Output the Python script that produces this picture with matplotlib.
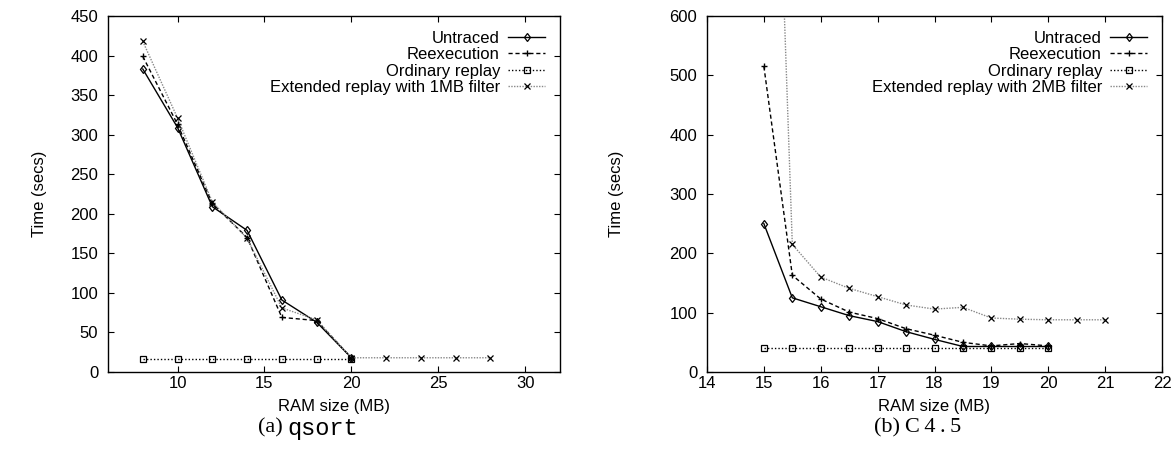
import matplotlib
matplotlib.use('Agg')
import matplotlib.pyplot as plt

plt.rcParams['font.family'] = ['Liberation Sans', 'DejaVu Sans']

# (a) qsort
qs_x = [8, 10, 12, 14, 16, 18, 20]
qs_untraced = [383, 309, 209, 179, 91, 63, 18]
qs_reexec = [399, 313, 213, 170, 69, 65, 18]
qs_ordinary = [16, 16, 16, 16, 16, 16, 16]
qs_ext_x = [8, 10, 12, 14, 16, 18, 20, 22, 24, 26, 28]
qs_ext = [418, 321, 215, 169, 81, 66, 18, 18, 18, 18, 18]

# (b) c4.5
c45_x = [15, 15.5, 16, 16.5, 17, 17.5, 18, 18.5, 19, 19.5, 20]
c45_untraced = [250, 125, 110, 95, 85, 68, 55, 43, 43, 43, 43]
c45_reexec = [515, 163, 123, 101, 90, 73, 62, 50, 44, 48, 44]
c45_ordinary = [40, 40, 40, 40, 40, 40, 40, 40, 40, 40, 40]
c45_ext_x = [15, 15.5, 16, 16.5, 17, 17.5, 18, 18.5, 19, 19.5, 20, 20.5, 21]
c45_ext = [1600, 215, 160, 141, 127, 113, 106, 109, 91, 89, 88, 88, 88]

W, H = 1175, 455
FS = 12
fig = plt.figure(figsize=(W / 100, H / 100), dpi=100)

def px_axes(l, r, t, b):
    return fig.add_axes([l / W, 1 - b / H, (r - l) / W, (b - t) / H])

def draw(ax, x, unt, ree, ordn, ext_x, ext, ext_label):
    ax.plot(x, unt, color='black', lw=1, marker='d', ms=4.5, mfc='none',
            mew=0.9, label='Untraced')
    ax.plot(x, ree, color='black', lw=1, ls=(0, (3, 2)), marker='+', ms=5,
            mew=1, label='Reexecution')
    ax.plot(x, ordn, color='black', lw=1, ls=(0, (1, 1.5)), marker='s',
            ms=4.5, mfc='none', mew=0.9, label='Ordinary replay')
    ax.plot(ext_x, ext, color='#888888', lw=1, ls=(0, (1, 1)), marker='x',
            ms=5, mec='black', mew=0.9, label=ext_label)
    ax.tick_params(direction='in', top=True, right=True, length=4,
                   labelsize=FS, width=0.8)
    ax.tick_params(axis='y', pad=7)
    ax.tick_params(axis='x', pad=3)
    for s in ax.spines.values():
        s.set_linewidth(1)
    ax.legend(loc='upper right', frameon=False, markerfirst=False,
              fontsize=FS, handlelength=2.2, labelspacing=0.08,
              borderaxespad=0.5, handletextpad=0.5)
    ax.set_xlabel('RAM size (MB)', fontsize=FS, labelpad=6)
    ax.set_ylabel('Time (secs)', fontsize=FS)

ax1 = px_axes(108, 560, 16, 372)
draw(ax1, qs_x, qs_untraced, qs_reexec, qs_ordinary, qs_ext_x, qs_ext,
     'Extended replay with 1MB filter')
ax1.set_xlim(6, 32)
ax1.set_ylim(0, 450)
ax1.set_xticks([10, 15, 20, 25, 30])
ax1.set_yticks(range(0, 451, 50))
ax1.yaxis.set_label_coords(-0.135, 0.5)

ax2 = px_axes(707, 1162, 16, 372)
draw(ax2, c45_x, c45_untraced, c45_reexec, c45_ordinary, c45_ext_x, c45_ext,
     'Extended replay with 2MB filter')
ax2.set_xlim(14, 22)
ax2.set_ylim(0, 600)
ax2.set_xticks(range(14, 23))
ax2.set_yticks(range(0, 601, 100))
ax2.yaxis.set_label_coords(-0.182, 0.5)

cy = 1 - 428 / H
fig.text(283 / W, cy, '(a)', ha='right', va='center', fontsize=16,
         family='Liberation Serif')
fig.text(287 / W, cy, 'qsort', ha='left', va='center', fontsize=17,
         family='Liberation Mono')
fig.text(900 / W, cy, '(b)', ha='right', va='center', fontsize=16,
         family='Liberation Serif')
fig.text(905 / W, cy, 'C\u20094\u2009.\u20095', ha='left', va='center',
         fontsize=16, family=['Liberation Serif', 'DejaVu Serif'])

fig.savefig('out.png', dpi=100)
